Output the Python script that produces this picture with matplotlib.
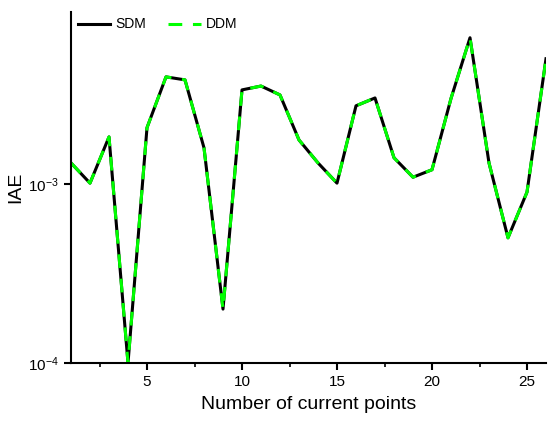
import matplotlib
matplotlib.use("Agg")
import matplotlib.pyplot as plt
from matplotlib.ticker import FixedLocator, NullLocator, FixedFormatter

x_points = list(range(1, 27))
sdm = [1.31e-3, 1.01e-3, 1.83e-3, 1.0e-4, 2.06e-3, 3.96e-3, 3.81e-3, 1.59e-3, 2.0e-4,
       3.35e-3, 3.52e-3, 3.14e-3, 1.76e-3, 1.31e-3, 1.01e-3, 2.73e-3, 3.02e-3, 1.40e-3,
       1.09e-3, 1.20e-3, 3.0e-3, 6.55e-3, 1.31e-3, 5.0e-4, 9.0e-4, 5.0e-3]
ddm = list(sdm)
xticks = [5, 10, 15, 20, 25]
yticks = [1e-4, 1e-3]
yticklabels = [r"$10^{-4}$", r"$10^{-3}$"]

plt.rcParams['font.family'] = ['Liberation Sans', 'DejaVu Sans']
plt.rcParams['mathtext.fontset'] = 'custom'
plt.rcParams['mathtext.rm'] = 'Liberation Sans'
plt.rcParams['mathtext.it'] = 'Liberation Sans'

fig = plt.figure(figsize=(5.5, 4.21), dpi=100)
ax = fig.add_axes([71/550, 1-363/421, (546-71)/550, (363-12)/421])

ax.plot(x_points, sdm, color='black', lw=2.2, label='SDM')
ax.plot(x_points, ddm, color='#00ff00', lw=2.2, ls=(0, (4.5, 3.5)), label='DDM')

ax.set_yscale('log')
ax.set_xlim(1, 26)
ax.set_ylim(1e-4, 10**-2.04)
ax.yaxis.set_major_locator(FixedLocator(yticks))
ax.yaxis.set_major_formatter(FixedFormatter(yticklabels))
ax.yaxis.set_minor_locator(NullLocator())
ax.set_xticks(xticks)
ax.set_xticks([2.5, 7.5, 12.5, 17.5, 22.5], minor=True)

for s in ['top', 'right']:
    ax.spines[s].set_visible(False)
for s in ['left', 'bottom']:
    ax.spines[s].set_linewidth(1.5)
ax.tick_params(axis='both', which='major', direction='out', length=5, width=1.5, labelsize=11)
ax.tick_params(axis='x', which='minor', direction='out', length=3, width=1.2)

ax.set_xlabel('Number of current points', fontsize=14, labelpad=5)
ax.set_ylabel('IAE', fontsize=14, labelpad=3)

leg = ax.legend(loc='upper left', ncol=2, frameon=False, fontsize=10,
                handlelength=2.35, columnspacing=1.6, handletextpad=0.35,
                bbox_to_anchor=(-0.012, 1.02))

fig.savefig('out.png', dpi=100)
